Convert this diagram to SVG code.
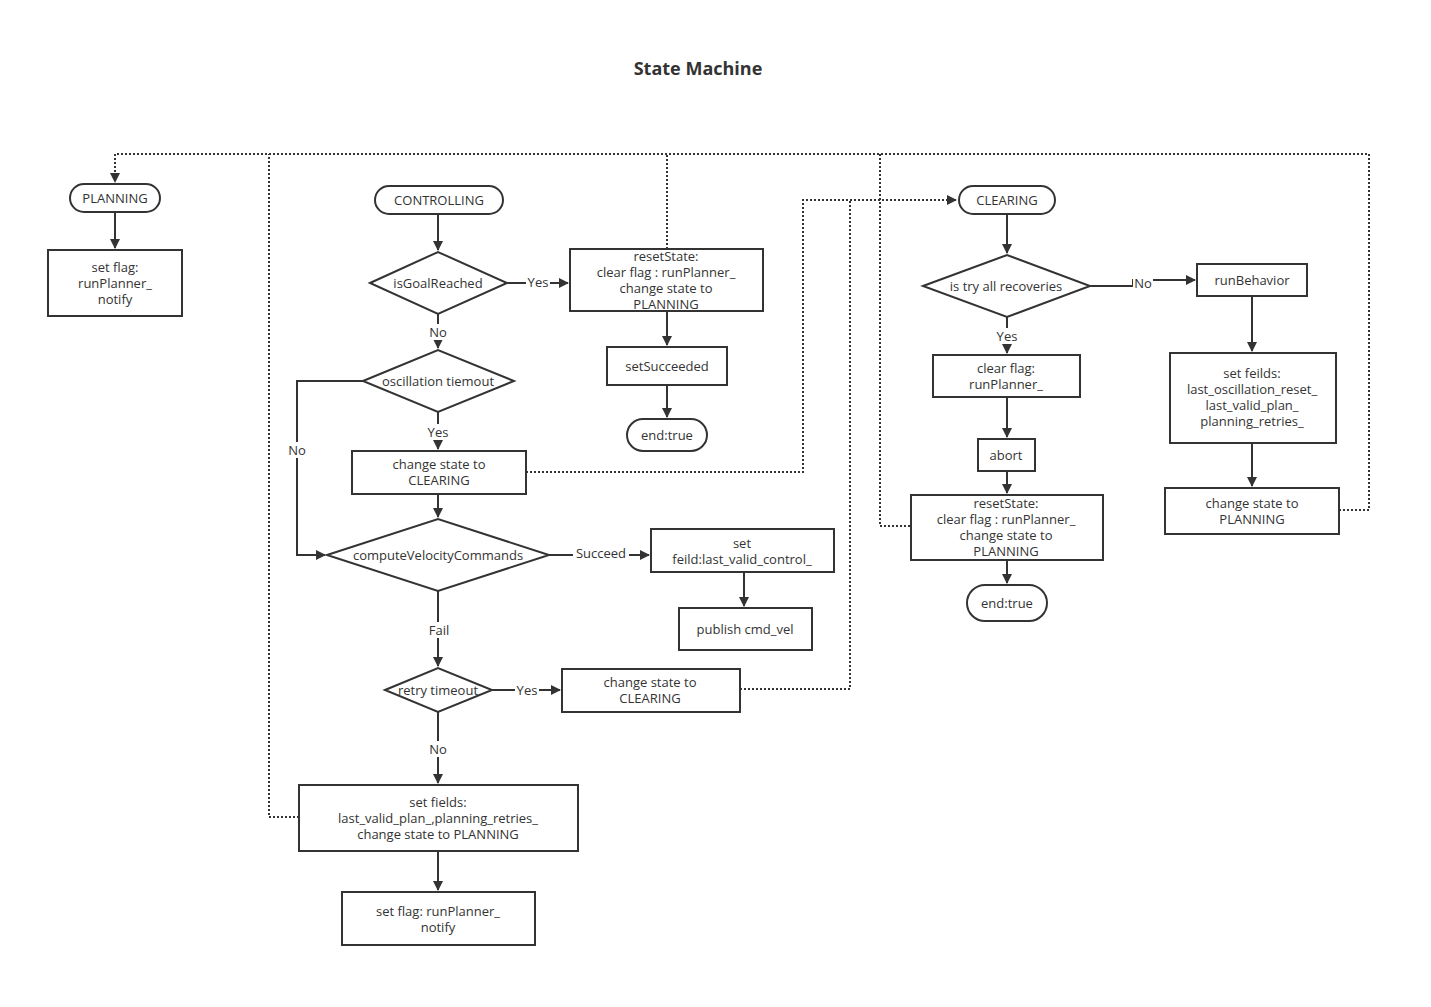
<svg xmlns="http://www.w3.org/2000/svg" width="1431" height="1007" viewBox="0 0 1431 1007">
<style>
.n{fill:#fff;stroke:#333;stroke-width:2}
text{font-family:"Open Sans","Liberation Sans",sans-serif;font-size:13px;fill:#333;text-anchor:middle}
.l{stroke:#333;stroke-width:2;fill:none}
.d{stroke:#333;stroke-width:2;fill:none;stroke-dasharray:2 2}
.lb{fill:#fff}
</style>
<defs><marker id="a" markerWidth="10" markerHeight="10" refX="9" refY="5" orient="auto" markerUnits="userSpaceOnUse"><path d="M0,0L10,5L0,10z" fill="#333"/></marker></defs>
<rect width="1431" height="1007" fill="#fff"/>
<text x="698" y="75" style="font-size:18px;font-weight:bold">State Machine</text>
<g id="connectors">
<path class="d" d="M1339,510H1369V154H115V182" marker-end="url(#a)"/>
<path class="d" d="M299,817H269V154"/>
<path class="d" d="M667,249V154"/>
<path class="d" d="M910,526H880V154"/>
<path class="d" d="M526,472H803V200H956" marker-end="url(#a)"/>
<path class="d" d="M740,689H850V200"/>
<path class="l" d="M115,212V248" marker-end="url(#a)"/>
<path class="l" d="M438,214V250" marker-end="url(#a)"/>
<path class="l" d="M507,283H568" marker-end="url(#a)"/>
<path class="l" d="M667,311V345" marker-end="url(#a)"/>
<path class="l" d="M667,385V417" marker-end="url(#a)"/>
<path class="l" d="M438,314V348" marker-end="url(#a)"/>
<path class="l" d="M438,412V449" marker-end="url(#a)"/>
<path class="l" d="M363,381H297V555H325" marker-end="url(#a)"/>
<path class="l" d="M438,494V517" marker-end="url(#a)"/>
<path class="l" d="M549,555H649" marker-end="url(#a)"/>
<path class="l" d="M744,572V606" marker-end="url(#a)"/>
<path class="l" d="M438,591V666" marker-end="url(#a)"/>
<path class="l" d="M492,690H560" marker-end="url(#a)"/>
<path class="l" d="M438,712V783" marker-end="url(#a)"/>
<path class="l" d="M438,851V890" marker-end="url(#a)"/>
<path class="l" d="M1007,214V253" marker-end="url(#a)"/>
<path class="l" d="M1090,286H1133V280H1195" marker-end="url(#a)"/>
<path class="l" d="M1252,296V351" marker-end="url(#a)"/>
<path class="l" d="M1252,443V486" marker-end="url(#a)"/>
<path class="l" d="M1007,317V353" marker-end="url(#a)"/>
<path class="l" d="M1007,397V437" marker-end="url(#a)"/>
<path class="l" d="M1007,471V493" marker-end="url(#a)"/>
<path class="l" d="M1007,560V583" marker-end="url(#a)"/>
<rect class="lb" x="526" y="274" width="24" height="16"/><text x="538" y="287">Yes</text>
<rect class="lb" x="426" y="324" width="24" height="16"/><text x="438" y="337">No</text>
<rect class="lb" x="426" y="424" width="24" height="16"/><text x="438" y="437">Yes</text>
<rect class="lb" x="285" y="442" width="24" height="16"/><text x="297" y="455">No</text>
<rect class="lb" x="573" y="545" width="56" height="16"/><text x="601" y="558">Succeed</text>
<rect class="lb" x="428" y="622" width="22" height="16"/><text x="439" y="635">Fail</text>
<rect class="lb" x="515" y="682" width="24" height="16"/><text x="527" y="695">Yes</text>
<rect class="lb" x="426" y="741" width="24" height="16"/><text x="438" y="754">No</text>
<rect class="lb" x="1133" y="275" width="20" height="16"/><text x="1143" y="288">No</text>
<rect class="lb" x="995" y="328" width="24" height="16"/><text x="1007" y="341">Yes</text>
</g>
<g id="planning"><rect class="n" x="70" y="184" width="90" height="28" rx="14"/><text x="115" y="203">PLANNING</text></g>
<g id="setflag1"><rect class="n" x="48" y="250" width="134" height="66"/><text x="115" y="272">set flag:</text><text x="115" y="288">runPlanner_</text><text x="115" y="304">notify</text></g>
<g id="controlling"><rect class="n" x="375" y="186" width="128" height="28" rx="14"/><text x="439" y="205">CONTROLLING</text></g>
<g id="isGoal"><path class="n" d="M370,283L438,252L507,283L438,314z"/><text x="438" y="288">isGoalReached</text></g>
<g id="reset1"><rect class="n" x="570" y="249" width="193" height="62"/><text x="666" y="261">resetState:</text><text x="666" y="277">clear flag : runPlanner_</text><text x="666" y="293">change state to</text><text x="666" y="309">PLANNING</text></g>
<g id="succ"><rect class="n" x="607" y="347" width="120" height="38"/><text x="667" y="371">setSucceeded</text></g>
<g id="end1"><rect class="n" x="627" y="419" width="80" height="32" rx="16"/><text x="667" y="440">end:true</text></g>
<g id="osc"><path class="n" d="M363,381L438,350L514,381L438,412z"/><text x="438" y="386">oscillation tiemout</text></g>
<g id="cs1"><rect class="n" x="352" y="451" width="174" height="43"/><text x="439" y="469">change state to</text><text x="439" y="485">CLEARING</text></g>
<g id="cvc"><path class="n" d="M327,555L438,519L549,555L438,591z"/><text x="438" y="560">computeVelocityCommands</text></g>
<g id="setvc"><rect class="n" x="651" y="529" width="183" height="43"/><text x="742" y="548">set</text><text x="742" y="564">feild:last_valid_control_</text></g>
<g id="pub"><rect class="n" x="679" y="608" width="133" height="42"/><text x="745" y="634">publish cmd_vel</text></g>
<g id="retry"><path class="n" d="M385,690L438,668L492,690L438,712z"/><text x="438" y="695">retry timeout</text></g>
<g id="cs2"><rect class="n" x="562" y="669" width="178" height="43"/><text x="650" y="687">change state to</text><text x="650" y="703">CLEARING</text></g>
<g id="setfields"><rect class="n" x="299" y="785" width="279" height="66"/><text x="438" y="807">set fields:</text><text x="438" y="823">last_valid_plan_,planning_retries_</text><text x="438" y="839">change state to PLANNING</text></g>
<g id="setflag2"><rect class="n" x="342" y="892" width="193" height="53"/><text x="438" y="916">set flag: runPlanner_</text><text x="438" y="932">notify</text></g>
<g id="clearing"><rect class="n" x="959" y="186" width="96" height="28" rx="14"/><text x="1007" y="205">CLEARING</text></g>
<g id="tryall"><path class="n" d="M923,286L1007,255L1090,286L1007,317z"/><text x="1006" y="291">is try all recoveries</text></g>
<g id="runb"><rect class="n" x="1197" y="264" width="110" height="32" rx="0"/><text x="1252" y="285">runBehavior</text></g>
<g id="setfeilds"><rect class="n" x="1170" y="353" width="166" height="90"/><text x="1252" y="378">set feilds:</text><text x="1252" y="394">last_oscillation_reset_</text><text x="1252" y="410">last_valid_plan_</text><text x="1252" y="426">planning_retries_</text></g>
<g id="cs3"><rect class="n" x="1165" y="488" width="174" height="46"/><text x="1252" y="508">change state to</text><text x="1252" y="524">PLANNING</text></g>
<g id="clearflag"><rect class="n" x="933" y="355" width="147" height="42"/><text x="1006" y="373">clear flag:</text><text x="1006" y="389">runPlanner_</text></g>
<g id="abort"><rect class="n" x="978" y="439" width="57" height="32"/><text x="1006" y="460">abort</text></g>
<g id="reset2"><rect class="n" x="911" y="495" width="192" height="65"/><text x="1006" y="508">resetState:</text><text x="1006" y="524">clear flag : runPlanner_</text><text x="1006" y="540">change state to</text><text x="1006" y="556">PLANNING</text></g>
<g id="end2"><rect class="n" x="967" y="585" width="80" height="36" rx="18"/><text x="1007" y="608">end:true</text></g>
</svg>
